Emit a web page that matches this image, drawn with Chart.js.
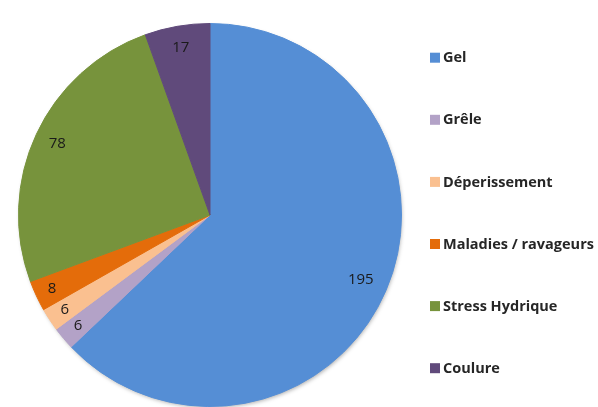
<!DOCTYPE html>
<html>
<head>
<meta charset="utf-8">
<script src="https://cdn.jsdelivr.net/npm/chart.js@4/dist/chart.umd.min.js"></script>
<style>
  html, body { margin: 0; padding: 0; background: #fff; }
  #wrap { width: 598px; height: 407px; position: relative; }
</style>
</head>
<body>
<div id="wrap"><canvas id="pie"></canvas></div>
<script>
// chart data
const categories = ['Gel', 'Grêle', 'Déperissement', 'Maladies / ravageurs', 'Stress Hydrique', 'Coulure'];
const counts = [195, 6, 6, 8, 78, 17];
const colours = ['#558ED5', '#B3A2C7', '#FAC090', '#E46C0A', '#77933C', '#604A7B'];

// how far out each value label sits (fraction of the radius)
const labelDepth = [0.857, 0.9, 0.905, 0.91, 0.88, 0.888];

// soft shadow under the pie, like the office export
const pieShadow = {
  id: 'pieShadow',
  beforeDatasetsDraw(chart) {
    const arc = chart.getDatasetMeta(0).data[0];
    if (!arc) return;
    const { x, y, outerRadius } = arc.getProps(['x', 'y', 'outerRadius'], true);
    const ctx = chart.ctx;
    ctx.save();
    ctx.shadowColor = 'rgba(0,0,0,0.35)';
    ctx.shadowBlur = 4;
    ctx.shadowOffsetX = 1;
    ctx.shadowOffsetY = 2;
    ctx.fillStyle = '#ffffff';
    ctx.beginPath();
    ctx.arc(x, y, outerRadius - 1, 0, Math.PI * 2);
    ctx.fill();
    ctx.restore();
  }
};

// value labels inside the slices
const sliceLabels = {
  id: 'sliceLabels',
  afterDatasetsDraw(chart) {
    const ctx = chart.ctx;
    const meta = chart.getDatasetMeta(0);
    ctx.save();
    ctx.font = '15px "Open Sans", "Liberation Sans", sans-serif';
    ctx.fillStyle = '#1a1a1a';
    ctx.textAlign = 'center';
    ctx.textBaseline = 'middle';
    meta.data.forEach((arc, i) => {
      const p = arc.getProps(['x', 'y', 'startAngle', 'endAngle', 'outerRadius'], true);
      const mid = (p.startAngle + p.endAngle) / 2;
      const r = p.outerRadius * labelDepth[i];
      ctx.fillText(String(counts[i]), p.x + Math.cos(mid) * r, p.y + Math.sin(mid) * r);
    });
    ctx.restore();
  }
};

// legend on the right, spaced like the reference
const sideLegend = {
  id: 'sideLegend',
  afterDraw(chart) {
    const ctx = chart.ctx;
    ctx.save();
    ctx.font = 'bold 14.5px "Open Sans", "Liberation Sans", sans-serif';
    ctx.textBaseline = 'middle';
    ctx.textAlign = 'left';
    categories.forEach((name, i) => {
      const cy = 57.7 + i * 62.1;
      ctx.fillStyle = colours[i];
      ctx.fillRect(430, cy - 5, 10, 10);
      ctx.fillStyle = '#262626';
      ctx.fillText(name, 443, cy + 0.5);
    });
    ctx.restore();
  }
};

new Chart(document.getElementById('pie'), {
  type: 'pie',
  data: {
    labels: categories,
    datasets: [{
      data: counts,
      backgroundColor: colours,
      borderColor: colours,
      borderWidth: 1
    }]
  },
  options: {
    responsive: true,
    maintainAspectRatio: false,
    animation: false,
    layout: { padding: { left: 18, right: 196, top: 23, bottom: 0 } },
    plugins: {
      legend: { display: false },
      tooltip: { enabled: false }
    }
  },
  plugins: [pieShadow, sliceLabels, sideLegend]
});
</script>
</body>
</html>
